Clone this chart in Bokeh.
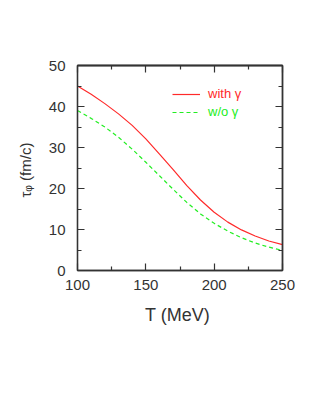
from bokeh.plotting import figure
from bokeh.models import LinearAxis, Legend, LegendItem, Range1d, FixedTicker
from bokeh.embed import file_html
from bokeh.resources import INLINE

T = [100, 110, 120, 130, 140, 150, 160, 170, 180, 190, 200, 210, 220, 230, 240, 250]
tau_with = [45.0, 43.0, 40.7, 38.2, 35.4, 32.1, 28.4, 24.6, 20.7, 17.2, 14.2, 11.8, 9.9, 8.4, 7.2, 6.3]
tau_without = [39.0, 37.1, 35.0, 32.5, 29.6, 26.4, 23.1, 19.8, 16.6, 13.8, 11.5, 9.6, 8.0, 6.7, 5.7, 4.9]
x_ticks = [100, 150, 200, 250]
x_minor = [125, 175, 225]
y_ticks = [0, 10, 20, 30, 40, 50]
y_minor = [5, 15, 25, 35, 45]
label_with = "with γ"
label_without = "w/o γ"

RED = "#ff2a2a"
GREEN = "#22ee22"
AX = "#333333"
FONT = "Liberation Sans"

p = figure(width=310, height=400, output_backend="svg", toolbar_location=None,
           x_range=Range1d(100, 250), y_range=Range1d(0, 50),
           min_border_left=77, min_border_right=28, min_border_top=65,
           min_border_bottom=130, x_axis_label="T  (MeV)", y_axis_label="τᵩ  (fm/c)")
p.background_fill_color = "white"
p.border_fill_color = "white"
p.grid.visible = False
p.outline_line_color = AX
p.outline_line_width = 1.3

r1 = p.line(T, tau_with, line_color=RED, line_width=1.2)
r2 = p.line(T, tau_without, line_color=GREEN, line_width=1.2, line_dash="4 3")

def base(ax):
    ax.axis_line_color = AX
    ax.axis_line_width = 1.3
    ax.major_tick_line_color = AX
    ax.minor_tick_line_color = AX
    ax.major_tick_line_width = 1.2
    ax.minor_tick_line_width = 1.2
    ax.major_tick_out = 0
    ax.minor_tick_out = 0

def style(ax, ticks, minor):
    base(ax)
    ax.ticker = FixedTicker(ticks=ticks, minor_ticks=minor)
    ax.major_tick_in = 7
    ax.minor_tick_in = 4
    ax.major_label_text_font = FONT
    ax.major_label_text_font_size = "15px"
    ax.major_label_text_color = AX
    ax.axis_label_text_font = FONT
    ax.axis_label_text_font_style = "normal"
    ax.axis_label_text_color = AX

style(p.xaxis[0], x_ticks, x_minor)
style(p.yaxis[0], y_ticks, y_minor)
p.xaxis[0].major_label_standoff = 9
p.xaxis[0].axis_label_standoff = 12
p.xaxis[0].axis_label_text_font_size = "18px"
p.yaxis[0].major_label_standoff = 12
p.yaxis[0].axis_label_standoff = 12
p.yaxis[0].axis_label_text_font_size = "15px"

# unlabeled tick axes on top and right: ticks drawn as "minor" ticks only (no labels)
def tick_only(side, positions, length):
    ax = LinearAxis()
    base(ax)
    ax.ticker = FixedTicker(ticks=[], minor_ticks=positions)
    ax.major_tick_in = 0
    ax.minor_tick_in = length
    ax.major_label_standoff = 0
    p.add_layout(ax, side)

tick_only("above", x_ticks, 7)
tick_only("above", x_minor, 4)
tick_only("right", y_ticks, 7)
tick_only("right", y_minor, 4)

def make_legend(renderer, text, color, loc):
    lg = Legend(items=[LegendItem(label=text, renderers=[renderer])], location=loc)
    lg.background_fill_alpha = 0
    lg.border_line_alpha = 0
    lg.padding = 0
    lg.margin = 0
    lg.glyph_width = 28
    lg.glyph_height = 14
    lg.label_height = 14
    lg.label_standoff = 8
    lg.label_text_font = FONT
    lg.label_text_font_size = "13px"
    lg.label_text_color = color
    p.add_layout(lg, "center")
    return lg

make_legend(r1, label_with, RED, (95, 169))
make_legend(r2, label_without, GREEN, (95, 151))

open("out.html", "w").write(file_html(p, INLINE))
